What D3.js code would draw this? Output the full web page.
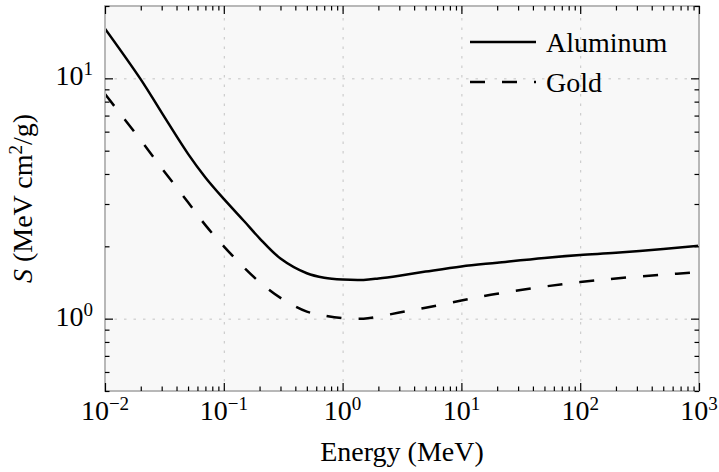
<!DOCTYPE html>
<html lang="en">
<head>
  <meta charset="UTF-8">
  <title>Stopping power: Aluminum vs Gold</title>
  <style>
    body { margin: 0; background: #fff; }
    svg { display: block; font-family: "Liberation Serif", "Times New Roman", serif; }
    .grid line { stroke: #c4c4c4; stroke-width: 1; stroke-dasharray: 2.5, 7; }
    .ticks line { stroke: #000; stroke-width: 1.2; }
  </style>
</head>
<body>
  <div class="canvas"></div>
  <script src="https://d3js.org/d3.v7.min.js"></script>
  <script>
    // energies in MeV, stopping power in MeV cm^2/g
    const energy   = [0.01, 0.02, 0.03, 0.05, 0.07, 0.1, 0.15, 0.2, 0.3, 0.5, 0.7, 1, 1.5, 2, 3, 5, 10, 20, 50, 100, 200, 500, 1000];
    const aluminum = [16.1, 9.9, 7.2, 4.85, 3.87, 3.15, 2.53, 2.16, 1.78, 1.545, 1.48, 1.455, 1.45, 1.47, 1.51, 1.57, 1.65, 1.71, 1.79, 1.84, 1.88, 1.95, 2.01];
    const gold     = [8.6, 5.53, 4.23, 3.05, 2.45, 2.0, 1.62, 1.42, 1.22, 1.07, 1.03, 1.005, 1.0, 1.02, 1.06, 1.11, 1.19, 1.27, 1.36, 1.42, 1.47, 1.525, 1.56];

    const seriesNames = ['Aluminum', 'Gold'];

    const xMajor = [1e-2, 1e-1, 1, 10, 100, 1000];
    const xExponents = ['\u22122', '\u22121', '0', '1', '2', '3'];
    const yMajor = [1, 10];
    const yExponents = ['0', '1'];
    const xMinor = [];
    [1e-2, 1e-1, 1, 10, 100].forEach(d => { for (let k = 2; k <= 9; k++) xMinor.push(d * k); });
    const yMinor = [0.5, 0.6, 0.7, 0.8, 0.9, 2, 3, 4, 5, 6, 7, 8, 9, 20];

    const width = 719;
    const height = 472;
    const margin = {top: 6, right: 20, bottom: 81, left: 105};
    const graphWidth = width - margin.left - margin.right;
    const graphHeight = height - margin.top - margin.bottom;

    const svg = d3.select('.canvas')
      .append('svg')
      .attr('width', width)
      .attr('height', height);

    const x = d3.scaleLog()
      .domain([0.01, 1000])
      .range([margin.left, margin.left + graphWidth]);

    const y = d3.scaleLog()
      .domain([0.5, 20])
      .range([margin.top + graphHeight, margin.top]);

    // plot background
    svg.append('rect')
      .attr('x', margin.left)
      .attr('y', margin.top)
      .attr('width', graphWidth)
      .attr('height', graphHeight)
      .attr('fill', '#f8f8f8');

    // dotted grid at the decades
    const gridX = svg.append('g')
      .attr('class', 'grid')
      .attr('transform', `translate(0, ${margin.top + graphHeight})`)
      .call(d3.axisBottom(x).tickValues(xMajor.slice(1, -1)).tickSize(-graphHeight).tickFormat(''));
    gridX.select('.domain').remove();

    const gridY = svg.append('g')
      .attr('class', 'grid')
      .attr('transform', `translate(${margin.left}, 0)`)
      .call(d3.axisLeft(y).tickValues(yMajor).tickSize(-graphWidth).tickFormat(''));
    gridY.select('.domain').remove();

    // curves
    svg.append('clipPath')
      .attr('id', 'plot-clip')
      .append('rect')
      .attr('x', margin.left)
      .attr('y', margin.top)
      .attr('width', graphWidth)
      .attr('height', graphHeight);

    const line = d3.line()
      .x(d => x(d[0]))
      .y(d => y(d[1]))
      .curve(d3.curveCatmullRom.alpha(0.5));

    const curves = svg.append('g').attr('clip-path', 'url(#plot-clip)');

    curves.append('path')
      .datum(d3.zip(energy, aluminum))
      .attr('d', line)
      .attr('fill', 'none')
      .attr('stroke', '#000')
      .attr('stroke-width', 2.5);

    curves.append('path')
      .datum(d3.zip(energy, gold))
      .attr('d', line)
      .attr('fill', 'none')
      .attr('stroke', '#000')
      .attr('stroke-width', 2.5)
      .attr('stroke-dasharray', '15,17');

    // frame
    svg.append('rect')
      .attr('x', margin.left)
      .attr('y', margin.top)
      .attr('width', graphWidth)
      .attr('height', graphHeight)
      .attr('fill', 'none')
      .attr('stroke', '#b8b8b8')
      .attr('stroke-width', 2);

    // inward ticks on all four sides
    function ticks(axisFn, scale, values, size, transform) {
      const g = svg.append('g')
        .attr('class', 'ticks')
        .attr('transform', transform)
        .call(axisFn(scale).tickValues(values).tickSize(-size).tickFormat(''));
      g.select('.domain').remove();
    }

    const bottomT = `translate(0, ${margin.top + graphHeight})`;
    const topT = `translate(0, ${margin.top})`;
    const leftT = `translate(${margin.left}, 0)`;
    const rightT = `translate(${margin.left + graphWidth}, 0)`;

    ticks(d3.axisBottom, x, xMajor, 8, bottomT);
    ticks(d3.axisBottom, x, xMinor, 4.5, bottomT);
    ticks(d3.axisTop, x, xMajor, 8, topT);
    ticks(d3.axisTop, x, xMinor, 4.5, topT);
    ticks(d3.axisLeft, y, yMajor, 8, leftT);
    ticks(d3.axisLeft, y, yMinor, 4.5, leftT);
    ticks(d3.axisRight, y, yMajor, 8, rightT);
    ticks(d3.axisRight, y, yMinor, 4.5, rightT);

    // tick labels as powers of ten
    function powerLabel(sel, exps) {
      sel.append('tspan').text('10');
      sel.append('tspan')
        .attr('dy', -10)
        .attr('font-size', 19)
        .text((d, i) => exps[i]);
    }

    svg.append('g')
      .selectAll('text')
      .data(xMajor)
      .join('text')
      .attr('x', d => x(d))
      .attr('y', margin.top + graphHeight + 29)
      .attr('text-anchor', 'middle')
      .attr('font-size', 28)
      .call(powerLabel, xExponents);

    svg.append('g')
      .selectAll('text')
      .data(yMajor)
      .join('text')
      .attr('x', margin.left - 12)
      .attr('y', d => y(d) + 7)
      .attr('text-anchor', 'end')
      .attr('font-size', 28)
      .call(powerLabel, yExponents);

    // axis titles
    svg.append('text')
      .attr('x', margin.left + graphWidth / 2)
      .attr('y', 461)
      .attr('text-anchor', 'middle')
      .attr('font-size', 28)
      .text('Energy (MeV)');

    const yTitle = svg.append('text')
      .attr('transform', `translate(32, ${margin.top + graphHeight / 2}) rotate(-90)`)
      .attr('text-anchor', 'middle')
      .attr('font-size', 28);
    yTitle.append('tspan').attr('font-style', 'italic').text('S');
    yTitle.append('tspan').text(' (MeV cm');
    yTitle.append('tspan').attr('dy', -10).attr('font-size', 19).text('2');
    yTitle.append('tspan').attr('dy', 10).text('/g)');

    // legend
    const legend = svg.append('g');
    const legendRows = legend.selectAll('g')
      .data(seriesNames)
      .join('g')
      .attr('transform', (d, i) => `translate(470, ${42 + i * 40})`);

    legendRows.append('line')
      .attr('x1', 0)
      .attr('x2', 66)
      .attr('stroke', '#000')
      .attr('stroke-width', 2.5)
      .attr('stroke-dasharray', (d, i) => i === 1 ? '15,17' : null);

    legendRows.append('text')
      .attr('x', 76)
      .attr('y', 10)
      .attr('font-size', 28)
      .text(d => d);
  </script>
</body>
</html>
